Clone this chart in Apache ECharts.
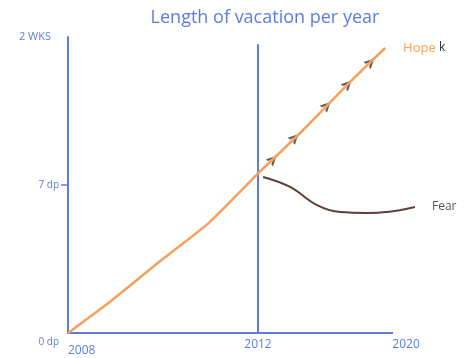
<!DOCTYPE html>
<html>
<head>
<meta charset="utf-8">
<script src="https://cdn.jsdelivr.net/npm/echarts@6/dist/echarts.min.js"></script>
<style>
  html, body { margin: 0; padding: 0; background: #fff; }
  #chart { width: 469px; height: 358px; }
</style>
</head>
<body>
<div id="chart"></div>
<script>
// sketch: 2008-2012 and 2012-2020 are drawn at different scales, so two grids
const yTicks = [0, 7, 14];
const yTickLabels = { 0: '0 dp', 7: '7 dp', 14: '2 WKS' };
const xTicks1 = [2008];
const xTicks2 = [2012, 2020];

const hopeYears1 = [2008, 2008.85, 2009.89, 2010.96, 2012];
const hopeDays1 = [0, 1.42, 3.31, 5.2, 7.55];

const hopeYears2 = [2012, 2014.49, 2017.45, 2019.53];
const hopeDays2 = [7.55, 9.46, 11.87, 13.48];

const fearYears = [2012.3, 2013.9, 2015.5, 2016.86, 2018.46, 2019.64, 2021.3];
const fearDays = [7.38, 6.91, 6.05, 5.72, 5.68, 5.72, 5.96];

const arrowYears = [2012.89, 2014.19, 2016.09, 2017.33, 2018.68];
const arrowDays = [8.22, 9.24, 10.76, 11.77, 12.82];

const blue = '#5a7ee0';
const orange = '#f5a05c';
const brown = '#5b4136';
const font = 'Open Sans';

const zip = (xs, ys) => xs.map((x, i) => [x, ys[i]]);

// both grids share the same pixel bottom; grid 2 starts lower, so scale its max
const yMax = 14;
const top1 = 37, top2 = 45, baseY = 333;
const yMax2 = yMax * (baseY - top2) / (baseY - top1);
// grid 2 runs a bit past 2020 so the fear curve can trail off to the right
const x2Max = 2021.3;

function yLabel(v) {
  if (v === 0) return '{low|' + yTickLabels[v] + '}';
  if (v === 14) return '{top|' + yTickLabels[v] + '}';
  return yTickLabels[v];
}

const chart = echarts.init(document.getElementById('chart'));

chart.setOption({
  animation: false,
  title: {
    text: 'Length of vacation per year',
    left: 260, top: 4,
    textAlign: 'center',
    textStyle: { color: blue, fontFamily: font, fontWeight: 'normal', fontSize: 18 }
  },
  grid: [
    { left: 68, right: 469 - 258, top: top1, bottom: 358 - baseY },
    { left: 258, right: 54, top: top2, bottom: 358 - baseY }
  ],
  xAxis: [
    {
      gridIndex: 0, type: 'value', min: 2008, max: 2012,
      axisLine: { lineStyle: { color: blue, width: 2 } },
      axisTick: { show: false },
      splitLine: { show: false },
      axisLabel: {
        customValues: xTicks1, alignMinLabel: 'left', margin: 12,
        color: blue, fontFamily: font, fontSize: 12,
        formatter: v => String(v)
      }
    },
    {
      gridIndex: 1, type: 'value', min: 2012, max: x2Max,
      axisLine: { show: false },
      axisTick: { show: false },
      splitLine: { show: false },
      axisLabel: {
        customValues: xTicks2, margin: 6,
        color: blue, fontFamily: font, fontSize: 12,
        formatter: v => v === 2020 ? '{r|' + v + '}' : String(v),
        rich: { r: { color: blue, fontFamily: font, fontSize: 12, padding: [0, 0, 0, 26] } }
      }
    }
  ],
  yAxis: [
    {
      gridIndex: 0, type: 'value', min: 0, max: yMax,
      axisLine: { show: true, lineStyle: { color: blue, width: 2 } },
      axisTick: { show: true, customValues: [7], length: 7, lineStyle: { color: blue, width: 1.5 } },
      splitLine: { show: false },
      axisLabel: {
        customValues: yTicks, margin: 9,
        color: blue, fontFamily: font, fontSize: 10,
        formatter: yLabel,
        rich: {
          low: { color: blue, fontFamily: font, fontSize: 10, padding: [18, 0, 0, 0] },
          top: { color: blue, fontFamily: font, fontSize: 11, padding: [0, 8, 0, 0] }
        }
      }
    },
    {
      gridIndex: 1, type: 'value', min: 0, max: yMax2,
      axisLine: { show: true, lineStyle: { color: blue, width: 2 } },
      axisTick: { show: false },
      axisLabel: { show: false },
      splitLine: { show: false }
    }
  ],
  series: [
    {
      name: 'Hope', type: 'line', xAxisIndex: 0, yAxisIndex: 0,
      data: zip(hopeYears1, hopeDays1),
      smooth: 0.15, symbol: 'none',
      lineStyle: { color: orange, width: 2.5 }
    },
    {
      name: 'Hope', type: 'line', xAxisIndex: 1, yAxisIndex: 1,
      data: zip(hopeYears2, hopeDays2),
      smooth: 0.3, symbol: 'none',
      lineStyle: { color: orange, width: 2.5 },
      endLabel: {
        show: true, distance: 18,
        formatter: '{h|Hope} {k|k}',
        rich: {
          h: { color: orange, fontFamily: font, fontSize: 13 },
          k: { color: '#333', fontFamily: font, fontSize: 12 }
        }
      }
    },
    {
      name: 'Fear', type: 'line', xAxisIndex: 1, yAxisIndex: 1,
      data: zip(fearYears, fearDays),
      smooth: 0.4, symbol: 'none',
      lineStyle: { color: brown, width: 2 },
      endLabel: {
        show: true, distance: 17, formatter: 'Fear',
        color: '#555', fontFamily: font, fontSize: 12
      }
    },
    {
      name: 'arrows', type: 'scatter', xAxisIndex: 1, yAxisIndex: 1,
      data: zip(arrowYears, arrowDays),
      symbol: 'path://M0,10 L5,0 L10,10 L7.5,10 L5,4.5 L2.5,10 Z',
      symbolSize: [10, 10], symbolRotate: -45,
      itemStyle: { color: '#333' },
      // x axis of the later period stops at 2020
      markLine: {
        silent: true, symbol: 'none',
        label: { show: false },
        lineStyle: { color: blue, width: 2, type: 'solid' },
        data: [[{ coord: [2012, 0] }, { coord: [2020, 0] }]]
      }
    }
  ]
});
</script>
</body>
</html>
